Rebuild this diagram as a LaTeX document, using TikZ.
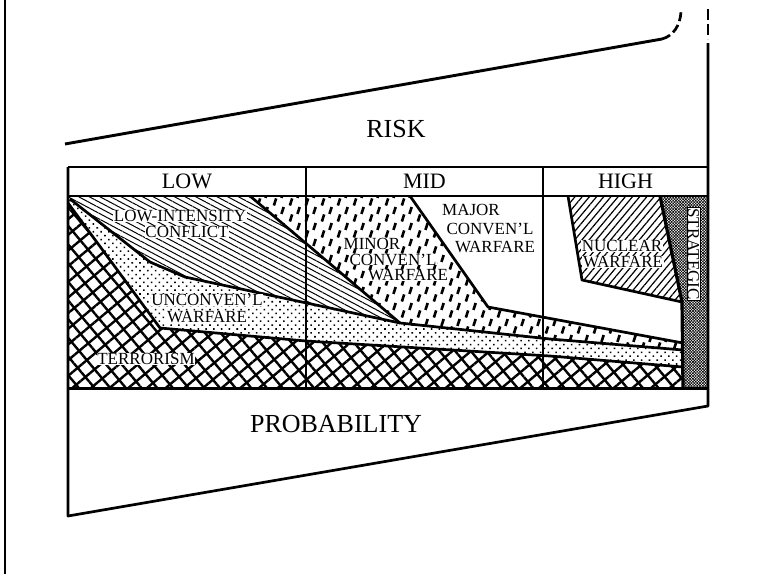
\documentclass[tikz,border=0pt]{standalone}
\usepackage{fontspec}
\setmainfont{Liberation Serif}
\usetikzlibrary{patterns.meta}

% short slanted strokes for the minor conventional band
\pgfdeclarepatternformonly{minordashes}{\pgfqpoint{0pt}{0pt}}{\pgfqpoint{16pt}{16pt}}{\pgfqpoint{16pt}{16pt}}{%
  \pgfsetlinewidth{2.8pt}%
  \pgfpathmoveto{\pgfqpoint{2pt}{0.5pt}}\pgfpathlineto{\pgfqpoint{4.4pt}{8pt}}%
  \pgfpathmoveto{\pgfqpoint{10pt}{8.5pt}}\pgfpathlineto{\pgfqpoint{12.4pt}{15.8pt}}%
  \pgfusepath{stroke}}

\begin{document}
\begin{tikzpicture}[x=1pt, y=-1pt,
    edge/.style={line width=2.7pt, line join=round},
    lbl/.style={font=\fontsize{17}{17}\selectfont, fill=white, inner xsep=0.6pt, inner ysep=0.1pt},
    head/.style={font=\fontsize{22}{22}\selectfont},
    axislbl/.style={font=\fontsize{26}{26}\selectfont}]
\useasboundingbox (0,0) rectangle (764,574);

% frame of the chart
\coordinate (ftop) at (5,0);
\coordinate (fbot) at (5,574);
\coordinate (tl) at (68,167);
\coordinate (tr) at (708,167);
\coordinate (hl) at (68,196);
\coordinate (hr) at (708,196);
\coordinate (bl) at (68,388);
\coordinate (br) at (708,388);
\coordinate (pl) at (68,516);
\coordinate (pr) at (708,406);
\coordinate (rtop) at (708,43);
\coordinate (rdash) at (708,9);
\coordinate (rdashend) at (708,39);
\coordinate (riskl) at (65,144);
\coordinate (riskr) at (662,39);
\coordinate (riskend) at (681,12);

% bands
\fill[pattern={Lines[angle=40,distance=12pt,line width=2.4pt]}]
  (68,203) -- (160,328) -- (306,341) -- (550,356) -- (683,367) -- (683,388) -- (bl) -- cycle;
\fill[pattern={Lines[angle=-50,distance=12pt,line width=2.4pt]}]
  (68,203) -- (160,328) -- (306,341) -- (550,356) -- (683,367) -- (683,388) -- (bl) -- cycle;
\fill[pattern={Dots[distance=5.5pt,angle=45,radius=1.1pt]}]
  (70,199) -- (150,262) -- (185,277) -- (400,323) -- (550,339) -- (683,350)
  -- (683,367) -- (550,356) -- (306,341) -- (160,328) -- (68,203) -- cycle;
\fill[pattern={Lines[angle=-28,distance=5pt,line width=1pt]}]
  (hl) -- (250,196) -- (400,323) -- (185,277) -- (150,262) -- (70,199) -- cycle;
\fill[pattern=minordashes]
  (250,196) -- (410,196) -- (488,307) -- (683,343) -- (683,350) -- (550,339) -- (400,323) -- cycle;
\fill[pattern={Lines[angle=50,distance=5.5pt,line width=1.2pt]}]
  (568,196) -- (660,196) -- (682,302) -- (582,280) -- cycle;
\fill[pattern={Lines[angle=45,distance=2pt,line width=0.6pt]}]
  (660,196) -- (hr) -- (br) -- (683,388) -- (682,302) -- cycle;
\fill[pattern={Lines[angle=-45,distance=2pt,line width=0.6pt]}]
  (660,196) -- (hr) -- (br) -- (683,388) -- (682,302) -- cycle;

% boundaries
\draw[edge] (70,199) -- (150,262) -- (185,277) -- (400,323);
\draw[edge] (250,196) -- (400,323) -- (550,339) -- (683,350);
\draw[edge] (410,196) -- (488,307) -- (683,343);
\draw[edge] (68,203) -- (160,328) -- (306,341) -- (550,356) -- (683,367);
\draw[edge] (568,196) -- (582,280) -- (682,302);
\draw[edge, line width=3.2pt] (660,196) -- (682,302) -- (683,388);
\draw[edge] (306,167) -- (306,388);
\draw[edge] (543,167) -- (543,388);

% table and axes
\draw[line width=1.4pt] (ftop) -- (fbot);
\draw[edge] (tl) -- (tr);
\draw[edge] (hl) -- (hr);
\draw[edge, line width=3pt] (bl) -- (br);
\draw[edge] (tl) -- (pl) -- (pr) -- (rtop);
\draw[edge, dash pattern=on 11pt off 4pt] (rdash) -- (rdashend);
\draw[edge, line width=2.9pt] (riskl) -- (riskr);
\draw[edge, line width=2.7pt, dash pattern=on 9pt off 4pt]
  (riskr) .. controls (673,36) and (680,26) .. (riskend);

% labels
\node[axislbl] (risk) at (396,129) {RISK};
\node[axislbl] (prob) at (336,424) {PROBABILITY};
\node[head] (low) at (187,181.5) {LOW};
\node[head] (mid) at (424.5,181.5) {MID};
\node[head] (high) at (625.5,181.5) {HIGH};

\node[lbl] (lic1) at (180,216) {LOW-INTENSITY};
\node[lbl] (lic2) at (187,232) {CONFLICT};
\node[lbl] (unc1) at (207,300) {UNCONVEN'L};
\node[lbl] (unc2) at (207,317) {WARFARE};
\node[lbl] (terror) at (146,359) {TERRORISM};
\node[lbl] (minor1) at (372,243.5) {MINOR};
\node[lbl] (minor2) at (393,259.5) {CONVEN'L};
\node[lbl] (minor3) at (408,275.5) {WARFARE};
\node[lbl] (major1) at (471,210) {MAJOR};
\node[lbl] (major2) at (490,229) {CONVEN'L};
\node[lbl] (major3) at (495,247) {WARFARE};
\node[lbl] (nuc1) at (622,246) {NUCLEAR};
\node[lbl] (nuc2) at (623,262) {WARFARE};
\node[lbl, rotate=-90, draw, line width=0.6pt, inner ysep=0.6pt] (strat) at (693.5,254) {STRATEGIC};
\end{tikzpicture}
\end{document}
